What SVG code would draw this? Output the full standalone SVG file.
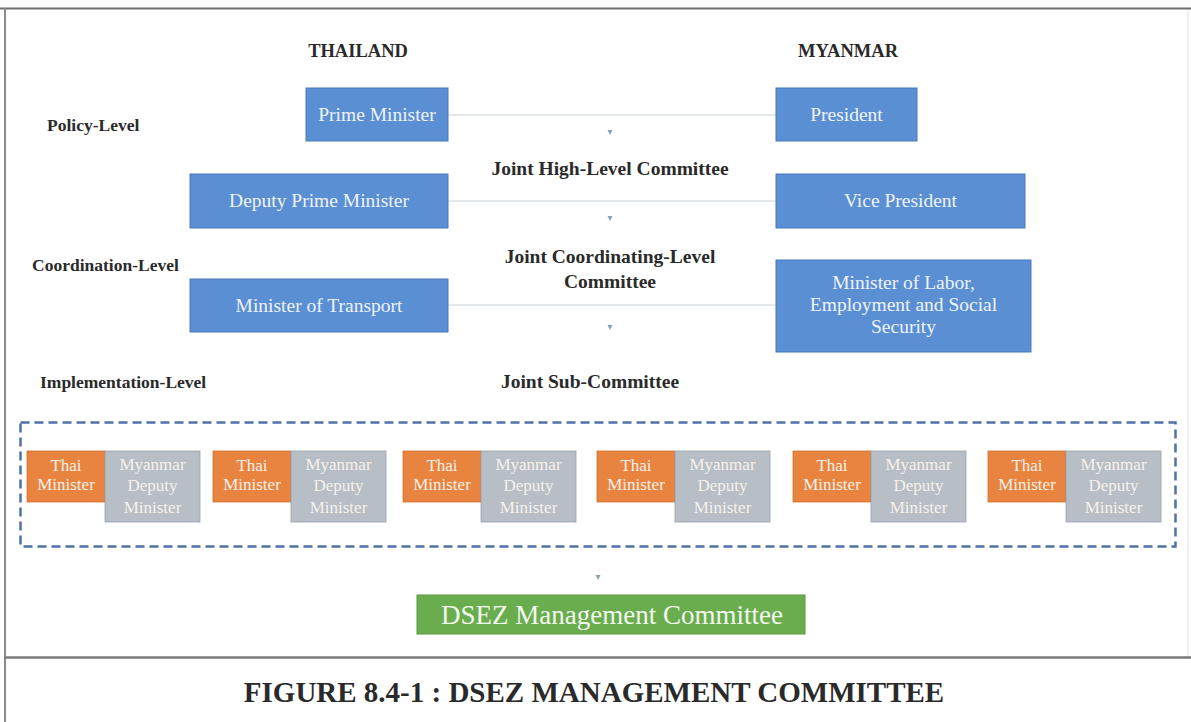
<svg xmlns="http://www.w3.org/2000/svg" width="1191" height="722" viewBox="0 0 1191 722">
<defs>
<style>
.hd{font-family:"Liberation Serif",serif;font-weight:bold;fill:#2a2a2a;text-anchor:middle}
.lvl{font-family:"Liberation Serif",serif;font-weight:bold;fill:#2a2a2a;font-size:17.5px}
.bl{fill:#5b8fd3;stroke:#4a78b8;stroke-width:1}
.bt{font-family:"Liberation Serif",serif;fill:#eef3fb;text-anchor:middle;font-size:19.5px}
.or{fill:#e8843f;stroke:#d0702e;stroke-width:0.8}
.gr{fill:#b8bec6;stroke:#9aa1aa;stroke-width:0.8}
.st{font-family:"Liberation Serif",serif;fill:#f6f1ea;text-anchor:middle;font-size:17px}
.link{stroke:#c9d3de;stroke-width:1.2;fill:none}
.ah{fill:#8a9fb8}
</style>
</defs>
<rect x="0" y="0" width="1191" height="722" fill="#ffffff"/>
<g id="frame" fill="none">
<line x1="0" y1="8.5" x2="1191" y2="8.5" stroke="#6e6e6e" stroke-width="2"/>
<line x1="5" y1="8" x2="5" y2="722" stroke="#8a8a8a" stroke-width="2"/>
<line x1="1188" y1="10" x2="1188" y2="657" stroke="#e2e2e2" stroke-width="1"/>
<line x1="4" y1="657.5" x2="1191" y2="657.5" stroke="#7a7a7a" stroke-width="2.5"/>
</g>
<g id="headers">
<text class="hd" x="358" y="57" font-size="18.5">THAILAND</text>
<text class="hd" x="848" y="57" font-size="18.5">MYANMAR</text>
<text class="lvl" x="47" y="131">Policy-Level</text>
<text class="lvl" x="32" y="271">Coordination-Level</text>
<text class="lvl" x="40" y="388">Implementation-Level</text>
<text class="hd" x="610" y="175" font-size="19.5">Joint High-Level Committee</text>
<text class="hd" x="610" y="263" font-size="19.5">Joint Coordinating-Level</text>
<text class="hd" x="610" y="288" font-size="19.5">Committee</text>
<text class="hd" x="590" y="388" font-size="19.5">Joint Sub-Committee</text>
</g>
<g id="connectors">
<line class="link" x1="448" y1="115" x2="776" y2="115"/>
<line class="link" x1="448" y1="201" x2="776" y2="201"/>
<line class="link" x1="448" y1="305" x2="776" y2="305"/>
<path class="ah" d="M607.5,130 L612.5,130 L610,135 z"/>
<path class="ah" d="M607.5,216 L612.5,216 L610,221 z"/>
<path class="ah" d="M607.5,325 L612.5,325 L610,330 z"/>
<path class="ah" d="M595.5,575 L600.5,575 L598,580 z"/>
</g>
<g id="prime-minister"><rect class="bl" x="306" y="88" width="142" height="53"/><text class="bt" x="377" y="121">Prime Minister</text></g>
<g id="president"><rect class="bl" x="776" y="88" width="141" height="53"/><text class="bt" x="846.5" y="121">President</text></g>
<g id="deputy-prime-minister"><rect class="bl" x="190" y="174" width="258" height="54"/><text class="bt" x="319" y="207">Deputy Prime Minister</text></g>
<g id="vice-president"><rect class="bl" x="776" y="174" width="249" height="54"/><text class="bt" x="900.5" y="207">Vice President</text></g>
<g id="minister-transport"><rect class="bl" x="190" y="279" width="258" height="53"/><text class="bt" x="319" y="312">Minister of Transport</text></g>
<g id="minister-labor"><rect class="bl" x="776" y="260" width="255" height="92"/>
<text class="bt" x="903.5" y="289">Minister of Labor,</text>
<text class="bt" x="903.5" y="311">Employment and Social</text>
<text class="bt" x="903.5" y="333">Security</text></g>
<g id="sub-committee">
<rect x="20.5" y="422.5" width="1155" height="124" fill="none" stroke="#4f72a8" stroke-width="2.5" stroke-dasharray="9,5"/>
</g>
<g id="pair-1"><rect class="or" x="27" y="451" width="78" height="51"/><rect class="gr" x="105" y="451" width="95" height="71"/>
<text class="st" x="66" y="471">Thai</text><text class="st" x="66" y="490">Minister</text>
<text class="st" x="152.5" y="470">Myanmar</text><text class="st" x="152.5" y="491">Deputy</text><text class="st" x="152.5" y="513">Minister</text></g>
<g id="pair-2"><rect class="or" x="213" y="451" width="78" height="51"/><rect class="gr" x="291" y="451" width="95" height="71"/>
<text class="st" x="252" y="471">Thai</text><text class="st" x="252" y="490">Minister</text>
<text class="st" x="338.5" y="470">Myanmar</text><text class="st" x="338.5" y="491">Deputy</text><text class="st" x="338.5" y="513">Minister</text></g>
<g id="pair-3"><rect class="or" x="403" y="451" width="78" height="51"/><rect class="gr" x="481" y="451" width="95" height="71"/>
<text class="st" x="442" y="471">Thai</text><text class="st" x="442" y="490">Minister</text>
<text class="st" x="528.5" y="470">Myanmar</text><text class="st" x="528.5" y="491">Deputy</text><text class="st" x="528.5" y="513">Minister</text></g>
<g id="pair-4"><rect class="or" x="597" y="451" width="78" height="51"/><rect class="gr" x="675" y="451" width="95" height="71"/>
<text class="st" x="636" y="471">Thai</text><text class="st" x="636" y="490">Minister</text>
<text class="st" x="722.5" y="470">Myanmar</text><text class="st" x="722.5" y="491">Deputy</text><text class="st" x="722.5" y="513">Minister</text></g>
<g id="pair-5"><rect class="or" x="793" y="451" width="78" height="51"/><rect class="gr" x="871" y="451" width="95" height="71"/>
<text class="st" x="832" y="471">Thai</text><text class="st" x="832" y="490">Minister</text>
<text class="st" x="918.5" y="470">Myanmar</text><text class="st" x="918.5" y="491">Deputy</text><text class="st" x="918.5" y="513">Minister</text></g>
<g id="pair-6"><rect class="or" x="988" y="451" width="78" height="51"/><rect class="gr" x="1066" y="451" width="95" height="71"/>
<text class="st" x="1027" y="471">Thai</text><text class="st" x="1027" y="490">Minister</text>
<text class="st" x="1113.5" y="470">Myanmar</text><text class="st" x="1113.5" y="491">Deputy</text><text class="st" x="1113.5" y="513">Minister</text></g>
<g id="dsez"><rect x="417" y="595" width="388" height="39" fill="#6aad4e" stroke="#5a9a40" stroke-width="1"/>
<text x="612" y="624" font-family="'Liberation Serif',serif" font-size="27" fill="#f2f8ee" text-anchor="middle">DSEZ Management Committee</text></g>
<g id="caption"><text class="hd" x="594" y="702" font-size="29">FIGURE 8.4-1 : DSEZ MANAGEMENT COMMITTEE</text></g>
</svg>
